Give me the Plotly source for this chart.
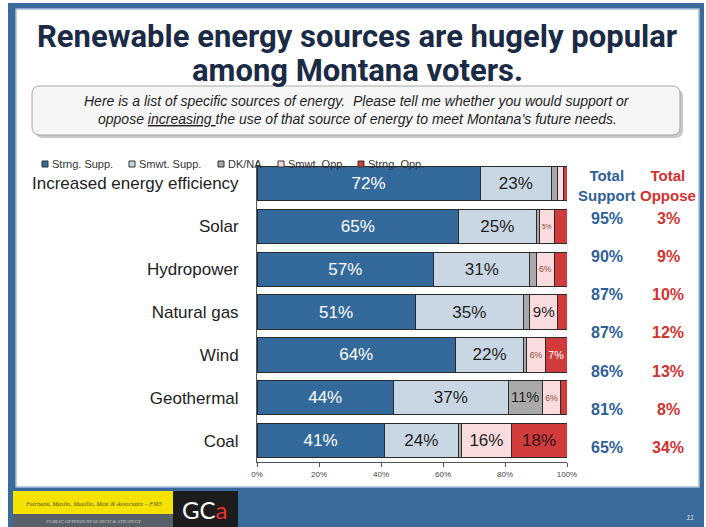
import plotly.graph_objects as go

# ---------------- data ----------------
categories = ["Increased energy efficiency", "Solar", "Hydropower", "Natural gas",
              "Wind", "Geothermal", "Coal"]
series_names = ["Strng. Supp.", "Smwt. Supp.", "DK/NA", "Smwt. Opp.", "Strng. Opp."]
strong_support = [72, 65, 57, 51, 64, 44, 41]
somewhat_support = [23, 25, 31, 35, 22, 37, 24]
dk_na = [2, 1, 2, 2, 1, 11, 1]
somewhat_oppose = [2, 5, 6, 9, 6, 6, 16]
strong_oppose = [1, 4, 4, 3, 7, 2, 18]
total_support = [95, 90, 87, 87, 86, 81, 65]
total_oppose = [3, 9, 10, 12, 13, 8, 34]
x_ticks = [0, 20, 40, 60, 80, 100]
x_tick_labels = ["0%", "20%", "40%", "60%", "80%", "100%"]

title_lines = ["Renewable energy sources are hugely popular", "among Montana voters."]
question_lines = ["Here is a list of specific sources of energy.  Please tell me whether you would support or",
                  "oppose <u>increasing </u>the use of that source of energy to meet Montana\u2019s future needs."]

# ---------------- styling ----------------
W, H = 706, 527
L, R, T, B = 257, 139, 162, 65
PW, PH = W - L - R, H - T - B

def px(x):
    return (x - L) / PW

def py(y):
    return (H - B - y) / PH

colors = ["#336A9B", "#C9D6E4", "#A9A9A9", "#FADCDE", "#D23B3B"]
FONT = "Liberation Sans, Arial, sans-serif"

def label_size(v):
    if v >= 9:
        return 17
    if v >= 7:
        return 13
    return 10

def label_color(k, v):
    if k == 0:
        return "white"
    if k == 4:
        return "white" if v < 10 else "#2a1515"
    if k == 3 and v < 9:
        return "#8a4a3a"
    return "#1e1e1e"

fig = go.Figure()
all_series = [strong_support, somewhat_support, dk_na, somewhat_oppose, strong_oppose]
for k, (name, vals) in enumerate(zip(series_names, all_series)):
    fig.add_trace(go.Bar(
        name=name, y=categories, x=vals, orientation="h",
        marker=dict(color=colors[k], line=dict(color="#2b2b2b", width=1)),
        width=0.8,
        text=[f"{v}%" if v >= 5 else "" for v in vals],
        textposition="inside", insidetextanchor="middle", textangle=0,
        textfont=dict(family=FONT, size=[label_size(v) for v in vals],
                      color=[label_color(k, v) for v in vals]),
        showlegend=False, hoverinfo="skip",
    ))

shapes = []
annotations = []

def note(x, y, text, size, color, family=FONT, xanchor="center"):
    annotations.append(dict(xref="paper", yref="paper", x=px(x), y=py(y), showarrow=False,
                            xanchor=xanchor, yanchor="middle", text=text,
                            font=dict(family=family, size=size, color=color)))

# slide frame
shapes.append(dict(type="rect", xref="paper", yref="paper", x0=px(8), x1=px(704), y0=py(527), y1=py(3),
                   fillcolor="#3A6B9B", line=dict(width=0), layer="below"))
shapes.append(dict(type="rect", xref="paper", yref="paper", x0=px(16), x1=px(699), y0=py(487), y1=py(9),
                   fillcolor="white", line=dict(color="#A9C0D8", width=1.5), layer="below"))

# question box (shadow + rounded rect)
def rounded(x0, y0, x1, y1, r):
    X0, X1 = px(x0), px(x1)
    Y0, Y1 = py(y0), py(y1)
    rx, ry = r / PW, r / PH
    return (f"M {X0+rx},{Y0} L {X1-rx},{Y0} Q {X1},{Y0} {X1},{Y0-ry} "
            f"L {X1},{Y1+ry} Q {X1},{Y1} {X1-rx},{Y1} L {X0+rx},{Y1} "
            f"Q {X0},{Y1} {X0},{Y1+ry} L {X0},{Y0-ry} Q {X0},{Y0} {X0+rx},{Y0} Z")

shapes.append(dict(type="path", xref="paper", yref="paper", path=rounded(35, 89, 683, 138, 8),
                   fillcolor="#C8C8C8", line=dict(width=0), layer="below"))
shapes.append(dict(type="path", xref="paper", yref="paper", path=rounded(32, 86, 680, 135, 8),
                   fillcolor="#F6F6F6", line=dict(color="#A8A8A8", width=1), layer="below"))

# footer logos
shapes.append(dict(type="rect", xref="paper", yref="paper", x0=px(13), x1=px(173), y0=py(514), y1=py(491),
                   fillcolor="#F6E200", line=dict(width=0), layer="below"))
shapes.append(dict(type="rect", xref="paper", yref="paper", x0=px(13), x1=px(173), y0=py(527), y1=py(514),
                   fillcolor="#586068", line=dict(width=0), layer="below"))
shapes.append(dict(type="rect", xref="paper", yref="paper", x0=px(173), x1=px(238), y0=py(527), y1=py(491),
                   fillcolor="#1C1C1C", line=dict(width=0), layer="below"))
note(93, 503, "<i>Fairbank, Maslin, Maullin, Metz &amp; Associates \u2013 FM3</i>", 6.3, "#55501a",
     family="Liberation Serif, serif")
note(93, 521, "<i>PUBLIC OPINION RESEARCH &amp; STRATEGY</i>", 5, "#c9cdd2",
     family="Liberation Serif, serif")
note(205, 509, "<span style='color:white'>GC</span><span style='color:#E8322E'>a</span>", 24, "white",
     family="Lato, sans-serif")
note(690, 517, "<i>11</i>", 8, "#C9D8E8")

# title and question
for line, yy in zip(title_lines, [37, 70]):
    note(357, yy, f"<b>{line}</b>", 31, "#1B2A45", family="Roboto, sans-serif")
for line, yy in zip(question_lines, [101, 119]):
    note(357, yy, f"<i>{line}</i>", 14, "#1e1e1e")

# legend (manual, small squares)
legend_x = [42, 129, 218, 278, 358]
for k, (name, xx) in enumerate(zip(series_names, legend_x)):
    shapes.append(dict(type="rect", xref="paper", yref="paper", x0=px(xx), x1=px(xx + 6),
                       y0=py(167), y1=py(161), fillcolor=colors[k],
                       line=dict(color="#333333", width=1)))
    note(xx + 8, 164, name, 11, "#333333", xanchor="left")

# totals columns
note(607, 185, "<b>Total<br>Support</b>", 15, "#2F5F96")
note(668, 185, "<b>Total<br>Oppose</b>", 15, "#D3322F")
for i, (s, o) in enumerate(zip(total_support, total_oppose)):
    yy = 218 + i * 38.3
    note(607, yy, f"<b>{s}%</b>", 16, "#2F5F96")
    note(668, yy, f"<b>{o}%</b>", 16, "#D3322F")

fig.update_layout(
    width=W, height=H, margin=dict(l=L, r=R, t=T, b=B, autoexpand=False),
    barmode="stack", bargap=0.2,
    paper_bgcolor="white", plot_bgcolor="rgba(0,0,0,0)",
    font=dict(family=FONT),
    shapes=shapes, annotations=annotations, showlegend=False,
    xaxis=dict(range=[0, 100], tickvals=x_ticks, ticktext=x_tick_labels, showgrid=False,
               zeroline=False, showline=True, linecolor="#555555", linewidth=1,
               ticks="outside", ticklen=4, tickcolor="#555555",
               tickfont=dict(family=FONT, size=8, color="#444444"), fixedrange=True),
    yaxis=dict(type="category", categoryorder="array", categoryarray=categories,
               range=[6.5, -0.5], showgrid=False, zeroline=False, showline=True,
               linecolor="#555555", linewidth=1, ticks="", ticklabelstandoff=14,
               tickfont=dict(family=FONT, size=17, color="#222222"), fixedrange=True),
)

fig.write_html("out.html")
